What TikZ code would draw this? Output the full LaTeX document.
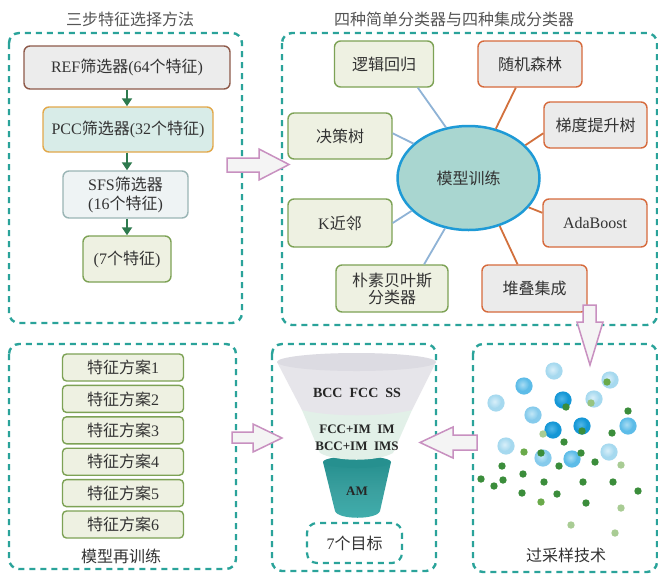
\documentclass[tikz,border=0pt]{standalone}
\usepackage{fontspec}
\setmainfont{Liberation Serif}
\newfontfamily\cj{Noto Sans CJK SC}
\usetikzlibrary{arrows.meta,shapes.geometric}
\newcommand\zh[1]{{\cj #1}}

\definecolor{panelc}{HTML}{2AA39A}
\definecolor{txt}{HTML}{333333}
\definecolor{ttl}{HTML}{555555}
\definecolor{refd}{HTML}{8E5A4A}
\definecolor{reff}{HTML}{ECECEC}
\definecolor{pccd}{HTML}{E2A84A}
\definecolor{pccf}{HTML}{D8ECE8}
\definecolor{sfsd}{HTML}{9AB5B5}
\definecolor{sfsf}{HTML}{EEF3F4}
\definecolor{gd}{HTML}{7DA255}
\definecolor{gf}{HTML}{EEF1E2}
\definecolor{od}{HTML}{D66A3C}
\definecolor{of}{HTML}{EBEBEB}
\definecolor{ellf}{HTML}{A9D6D0}
\definecolor{elld}{HTML}{1E9AD6}
\definecolor{bl}{HTML}{8FB3D6}
\definecolor{ol}{HTML}{D2703C}
\definecolor{garr}{HTML}{2E7A4E}
\definecolor{arrd}{HTML}{C890C0}
\definecolor{arrf}{HTML}{F4F4F4}
\definecolor{fgray}{HTML}{E6E5EA}
\definecolor{fgrayt}{HTML}{DCDBE2}
\definecolor{fgreen}{HTML}{E2F0E8}
\definecolor{ftealt}{HTML}{26908F}
\definecolor{fteal}{HTML}{40AEAD}
\definecolor{dgreen}{HTML}{3B8D3B}
\definecolor{mgreen}{HTML}{6AAA4A}
\definecolor{lgreen}{HTML}{A9CC94}
% bubble tones: outer / inner
\definecolor{bLo}{HTML}{A6D9EF}\definecolor{bLi}{HTML}{D8EFF9}
\definecolor{bNo}{HTML}{86CBEC}\definecolor{bNi}{HTML}{C2E7F6}
\definecolor{bMo}{HTML}{5DBCE8}\definecolor{bMi}{HTML}{A8DCF3}
\definecolor{bDo}{HTML}{1597D6}\definecolor{bDi}{HTML}{52B8E8}

\tikzset{
  panel/.style={draw=panelc, line width=2.4pt, dash pattern=on 6pt off 5pt, rounded corners=10pt},
  box/.style={rectangle, rounded corners=6pt, line width=1.4pt, inner sep=0pt, align=center,
    font=\fontsize{16}{19}\selectfont, text=txt},
  gbox/.style={box, draw=gd, fill=gf},
  obox/.style={box, draw=od, fill=of},
  ttext/.style={font=\fontsize{16}{19}\selectfont, text=ttl, inner sep=0pt},
  garrow/.style={draw=garr, line width=2pt, -{Triangle[length=8pt,width=10pt]}},
  bline/.style={draw=bl, line width=1.8pt},
  oline/.style={draw=ol, line width=1.8pt},
  bigarrow/.style={draw=arrd, fill=arrf, line width=1.5pt, line join=miter},
  ftext/.style={font=\fontsize{13}{15}\bfseries\selectfont, text=black!85, inner sep=0pt},
}

\begin{document}
\begin{tikzpicture}[x=1pt,y=-1pt]
\useasboundingbox (0,0) rectangle (658,574);
\fill[white] (0,0) rectangle (658,574);

% dashed group frames
\draw[panel] (9,33) rectangle (242,323);
\draw[panel] (282,33) rectangle (657,325);
\draw[panel] (9,344) rectangle (236,569);
\draw[panel] (272,344) rectangle (436,571);
\draw[panel] (473,344) rectangle (657,572);

% titles
\node[ttext] (t1) at (130,19) {\zh{三步特征选择方法}};
\node[ttext] (t2) at (454,19) {\zh{四种简单分类器与四种集成分类器}};

% feature selection chain
\node[box, draw=refd, fill=reff, minimum width=206pt, minimum height=43pt] (ref) at (127,67.5) {REF\zh{筛选器}(64\zh{个特征})};
\node[box, draw=pccd, fill=pccf, minimum width=170pt, minimum height=45pt] (pcc) at (128,129.5) {PCC\zh{筛选器}(32\zh{个特征})};
\node[box, draw=sfsd, fill=sfsf, minimum width=125pt, minimum height=47pt] (sfs) at (125.5,194.5) {SFS\zh{筛选器}\\(16\zh{个特征})};
\node[box, draw=gd, fill=gf, minimum width=88pt, minimum height=46pt] (sev) at (127,259) {(7\zh{个特征})};
\draw[garrow] (ref.south) -- (ref.south |- pcc.north);
\draw[garrow] (ref.south |- pcc.south) -- (ref.south |- sfs.north);
\draw[garrow] (ref.south |- sfs.south) -- (ref.south |- sev.north);

% classifiers around model training
\node[ellipse, draw=elld, fill=ellf, line width=2.5pt, minimum width=142pt, minimum height=104pt,
  inner sep=0pt, font=\fontsize{16}{19}\selectfont, text=txt] (mt) at (468.5,178) {\zh{模型训练}};
\node[gbox, minimum width=99pt, minimum height=46pt] (lr) at (384,64) {\zh{逻辑回归}};
\node[gbox, minimum width=104pt, minimum height=46pt] (dt) at (340,136) {\zh{决策树}};
\node[gbox, minimum width=104pt, minimum height=48pt] (kn) at (340,223) {K\zh{近邻}};
\node[gbox, minimum width=112pt, minimum height=47pt] (nb) at (392,288.5) {\zh{朴素贝叶斯}\\[-2pt]\zh{分类器}};
\node[obox, minimum width=104pt, minimum height=46pt] (rf) at (530,64) {\zh{随机森林}};
\node[obox, minimum width=103pt, minimum height=46pt] (gb) at (595.5,125) {\zh{梯度提升树}};
\node[obox, minimum width=104pt, minimum height=48pt] (ab) at (595,223) {AdaBoost};
\node[obox, minimum width=105pt, minimum height=47pt] (st) at (534.5,288.5) {\zh{堆叠集成}};

\draw[bline] (lr.-35) -- (mt.114);
\draw[bline] (dt.3) -- (mt.148);
\draw[bline] (kn.east) -- (mt.210);
\draw[bline] (nb.37) -- (mt.245);
\draw[oline] (rf.239) -- (mt.61);
\draw[oline] (gb.189) -- (mt.30);
\draw[oline] (ab.169) -- (mt.-26);
\draw[oline] (st.125) -- (mt.-57);

% retraining schemes
\foreach \i in {1,...,6}{
  \node[gbox, rounded corners=4pt, minimum width=121pt, minimum height=27pt] (fs\i) at (123,{367.5+31.4*(\i-1)}) {\zh{特征方案}\i};
}
\node[ttext, text=txt] (rt) at (121,556) {\zh{模型再训练}};

% funnel of targets
\shade[top color=ftealt, bottom color=fteal, middle color=fteal!92!black]
  (323,462) -- (335,511) .. controls (338,520) and (377,520) .. (380,511) -- (391,462) -- cycle;
\fill[ftealt] (357,462) ellipse (34pt and 6pt);
\fill[fgreen] (302,410) -- (320,453) .. controls (336,462) and (377,462) .. (393,453) -- (412,410) -- cycle;
\fill[fgray] (277,362) -- (302,410) .. controls (330,417) and (384,417) .. (412,410) -- (436,362) -- cycle;
\fill[fgrayt] (356.5,362) ellipse (79.5pt and 9pt);
\node[ftext, font=\fontsize{14}{16}\bfseries\selectfont] (f1) at (357,393) {BCC\ \ FCC\ \ SS};
\node[ftext] (f2) at (357,429) {FCC+IM\ \ IM};
\node[ftext] (f3) at (357,446) {BCC+IM\ \ IMS};
\node[ftext] (f4) at (357,491) {AM};
\node[draw=panelc, line width=2.2pt, dash pattern=on 6pt off 5pt, rounded corners=10pt,
  minimum width=95pt, minimum height=40pt, inner sep=0pt, font=\fontsize{16}{19}\selectfont, text=txt]
  (goal) at (354.5,543) {7\zh{个目标}};

% oversampling scatter
\foreach \x/\y/\c in {554/371/L, 524/386/M, 496/403/L, 533/415/N, 563/400/D, 594/399/L, 610/380/L,
  553/430/D, 582/426/D, 628/426/M, 506/446/L, 543/458/N, 572/459/M, 609/452/L}{
  \fill[b\c o] (\x,\y) circle (8.6pt);
  \shade[inner color=b\c i, outer color=b\c o] (\x-1.5,\y-1.5) circle (6.5pt);
}
\foreach \x/\y/\c in {607/382/mgreen, 566/407/dgreen, 591/403/mgreen!70!white, 628/411/dgreen,
  543/434/lgreen, 582/431/dgreen, 612/433/dgreen, 564/442/dgreen, 524/452/mgreen, 541/453/dgreen,
  581/453/dgreen, 595/462/dgreen, 621/465/lgreen, 502/466/dgreen, 559/466/dgreen, 481/479/dgreen,
  494/486/dgreen, 503/480/dgreen, 523/474/dgreen, 544/482/dgreen, 583/482/dgreen, 613/482/dgreen,
  638/491/dgreen, 522/493/dgreen, 557/494/dgreen, 541/502/mgreen, 586/503/dgreen, 621/508/lgreen,
  571/525/lgreen, 615/533/lgreen}{
  \fill[\c] (\x,\y) circle (3.7pt);
}
\node[ttext, text=txt] (os) at (566,555) {\zh{过采样技术}};

% block arrows between the stages
\draw[bigarrow] (227,158) -- (259,158) -- (259,149) -- (289,164.5) -- (259,180) -- (259,172) -- (227,172) -- cycle;
\draw[bigarrow] (232,432) -- (253,432) -- (253,424) -- (282,438) -- (253,452) -- (253,443) -- (232,443) -- cycle;
\draw[bigarrow] (477,435) -- (453,435) -- (453,427) -- (420,442.5) -- (453,458) -- (453,450) -- (477,450) -- cycle;
\draw[bigarrow] (583,305) -- (583,322) -- (577,322) -- (590,365) -- (603,322) -- (596,322) -- (596,305) -- cycle;
\end{tikzpicture}
\end{document}
